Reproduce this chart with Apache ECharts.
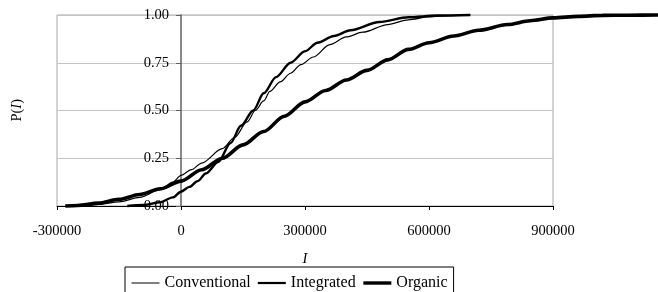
<!DOCTYPE html>
<html>
<head>
<meta charset="utf-8">
<title>P(I)</title>
<script src="https://cdn.jsdelivr.net/npm/echarts@6.0.0/dist/echarts.min.js"></script>
<style>
	html, body { margin: 0; padding: 0; background: #ffffff; }
	#chart { width: 658px; height: 292px; }
</style>
</head>
<body>
<div id="chart"></div>
<script>
// 数据：三条累积分布曲线 (I, P(I))
var seriesNames = [ 'Conventional', 'Integrated', 'Organic' ];

var conventionalI = [ -230000, -200000, -150000, -100000, -50000, -20000, 0, 25000, 50000,
		100000, 130000, 160000, 180000, 200000, 215000, 240000, 265000, 290000,
		320000, 360000, 400000, 440000, 500000, 550000, 600000, 650000, 700000 ];
var conventionalP = [ 0, 0.008, 0.022, 0.045, 0.085, 0.125, 0.16, 0.19, 0.225,
		0.3, 0.36, 0.44, 0.5, 0.55, 0.6, 0.65, 0.695, 0.74,
		0.78, 0.845, 0.885, 0.91, 0.95, 0.975, 0.99, 0.997, 1.0 ];

var integratedI = [ -130000, -90000, -50000, -20000, 0, 20000, 40000, 60000, 90000,
		120000, 145000, 175000, 200000, 230000, 265000, 300000, 330000, 370000,
		410000, 480000, 550000, 620000, 700000 ];
var integratedP = [ 0, 0.005, 0.02, 0.045, 0.075, 0.1, 0.13, 0.17, 0.23,
		0.33, 0.42, 0.5, 0.59, 0.675, 0.75, 0.81, 0.855, 0.89,
		0.92, 0.963, 0.988, 0.997, 1.0 ];

var organicI = [ -280000, -250000, -200000, -150000, -100000, -50000, 0, 50000, 100000,
		150000, 200000, 250000, 300000, 350000, 400000, 450000, 500000, 550000,
		600000, 660000, 720000, 790000, 845000, 900000, 960000, 1020000, 1080000, 1160000 ];
var organicP = [ 0, 0.003, 0.015, 0.035, 0.06, 0.09, 0.13, 0.19, 0.25,
		0.32, 0.39, 0.47, 0.545, 0.605, 0.66, 0.71, 0.765, 0.82,
		0.855, 0.89, 0.92, 0.95, 0.97, 0.985, 0.993, 0.998, 0.999, 1.0 ];

var xTicks = [ -300000, 0, 300000, 600000, 900000 ];
var yTicks = [ 0, 0.25, 0.5, 0.75, 1 ];

function zip(xs, ys) {
	var out = [];
	for ( var i = 0; i < xs.length; i++) {
		out.push([ xs[i], ys[i] ]);
	}
	return out;
}

var lineWidths = [ 1.2, 2.4, 3.6 ];
var legendWidths = [ 1, 2.2, 3.4 ];
var allData = [ zip(conventionalI, conventionalP), zip(integratedI, integratedP),
		zip(organicI, organicP) ];

var font = 'Liberation Serif, Times New Roman, serif';

// 绘图区：x 从 -300000 到 900000 占 496px
var plotLeft = 57, plotWidth = 496;
var pxPerUnit = plotWidth / (xTicks[xTicks.length - 1] - xTicks[0]);
var dataMaxI = 1200000; // 曲线超出绘图区右侧
var dataWidth = (dataMaxI - xTicks[0]) * pxPerUnit;
var yAxisOffset = -(0 - xTicks[0]) * pxPerUnit; // Y轴穿过 I = 0

var seriesList = [];
var legendData = [];
for ( var k = 0; k < seriesNames.length; k++) {
	seriesList.push({
		name : seriesNames[k],
		type : 'line',
		xAxisIndex : 1,
		yAxisIndex : 1,
		data : allData[k],
		symbol : 'none',
		smooth : 0.3,
		smoothMonotone : 'x',
		clip : false,
		lineStyle : {
			color : '#000000',
			width : lineWidths[k]
		},
		itemStyle : {
			color : '#000000'
		}
	});
	legendData.push({
		name : seriesNames[k],
		lineStyle : {
			color : '#000000',
			width : legendWidths[k]
		}
	});
}

var myChart = echarts.init(document.getElementById('chart'));

var option = {
	animation : false,
	grid : [ {
		left : plotLeft,
		top : 15,
		width : plotWidth,
		bottom : 86,
		outerBoundsMode : 'none',
		show : true,
		borderColor : '#a8a8a8',
		borderWidth : 1
	}, {
		left : plotLeft,
		top : 15,
		width : dataWidth,
		bottom : 86,
		outerBoundsMode : 'none'
	} ],
	legend : {
		data : legendData,
		left : 125,
		top : 267,
		orient : 'horizontal',
		padding : [ 8, 6, 10, 6 ],
		itemGap : 6,
		itemWidth : 28,
		itemHeight : 14,
		borderColor : '#000000',
		borderWidth : 1,
		itemStyle : {
			opacity : 0
		},
		textStyle : {
			fontFamily : font,
			fontSize : 16,
			color : '#000000'
		}
	},
	xAxis : [ {
		type : 'value',
		gridIndex : 0,
		min : xTicks[0],
		max : xTicks[xTicks.length - 1],
		interval : 300000,
		name : 'I',
		nameLocation : 'middle',
		nameGap : 46,
		nameTextStyle : {
			fontFamily : font,
			fontSize : 14.5,
			fontStyle : 'italic',
			color : '#000000'
		},
		axisLine : {
			onZero : false,
			lineStyle : {
				color : '#000000',
				width : 1
			}
		},
		axisTick : {
			show : true,
			length : 4,
			lineStyle : {
				color : '#000000'
			}
		},
		axisLabel : {
			margin : 18,
			fontFamily : font,
			fontSize : 14.5,
			color : '#000000',
			formatter : function(v) {
				return String(v);
			}
		},
		splitLine : {
			show : false
		}
	}, {
		type : 'value',
		gridIndex : 1,
		min : xTicks[0],
		max : dataMaxI,
		show : false
	} ],
	yAxis : [ {
		type : 'value',
		gridIndex : 0,
		min : yTicks[0],
		max : yTicks[yTicks.length - 1],
		interval : 0.25,
		offset : yAxisOffset,
		axisLine : {
			show : true,
			onZero : false,
			lineStyle : {
				color : '#606060',
				width : 1.5
			}
		},
		axisTick : {
			show : true,
			length : 5,
			lineStyle : {
				color : '#606060'
			}
		},
		axisLabel : {
			margin : 12,
			fontFamily : font,
			fontSize : 14.5,
			color : '#000000',
			formatter : function(v) {
				return v.toFixed(2);
			}
		},
		splitLine : {
			show : true,
			lineStyle : {
				color : '#c4c4c4',
				width : 1
			}
		}
	}, {
		type : 'value',
		gridIndex : 1,
		min : yTicks[0],
		max : yTicks[yTicks.length - 1],
		show : false
	} ],
	graphic : [ {
		type : 'text',
		left : 10,
		top : 99,
		rotation : Math.PI / 2,
		style : {
			text : 'P({i|I})',
			fontFamily : font,
			fontSize : 14.5,
			fill : '#000000',
			rich : {
				i : {
					fontFamily : font,
					fontSize : 14.5,
					fontStyle : 'italic'
				}
			}
		}
	} ],
	series : seriesList
};

myChart.setOption(option);
</script>
</body>
</html>
